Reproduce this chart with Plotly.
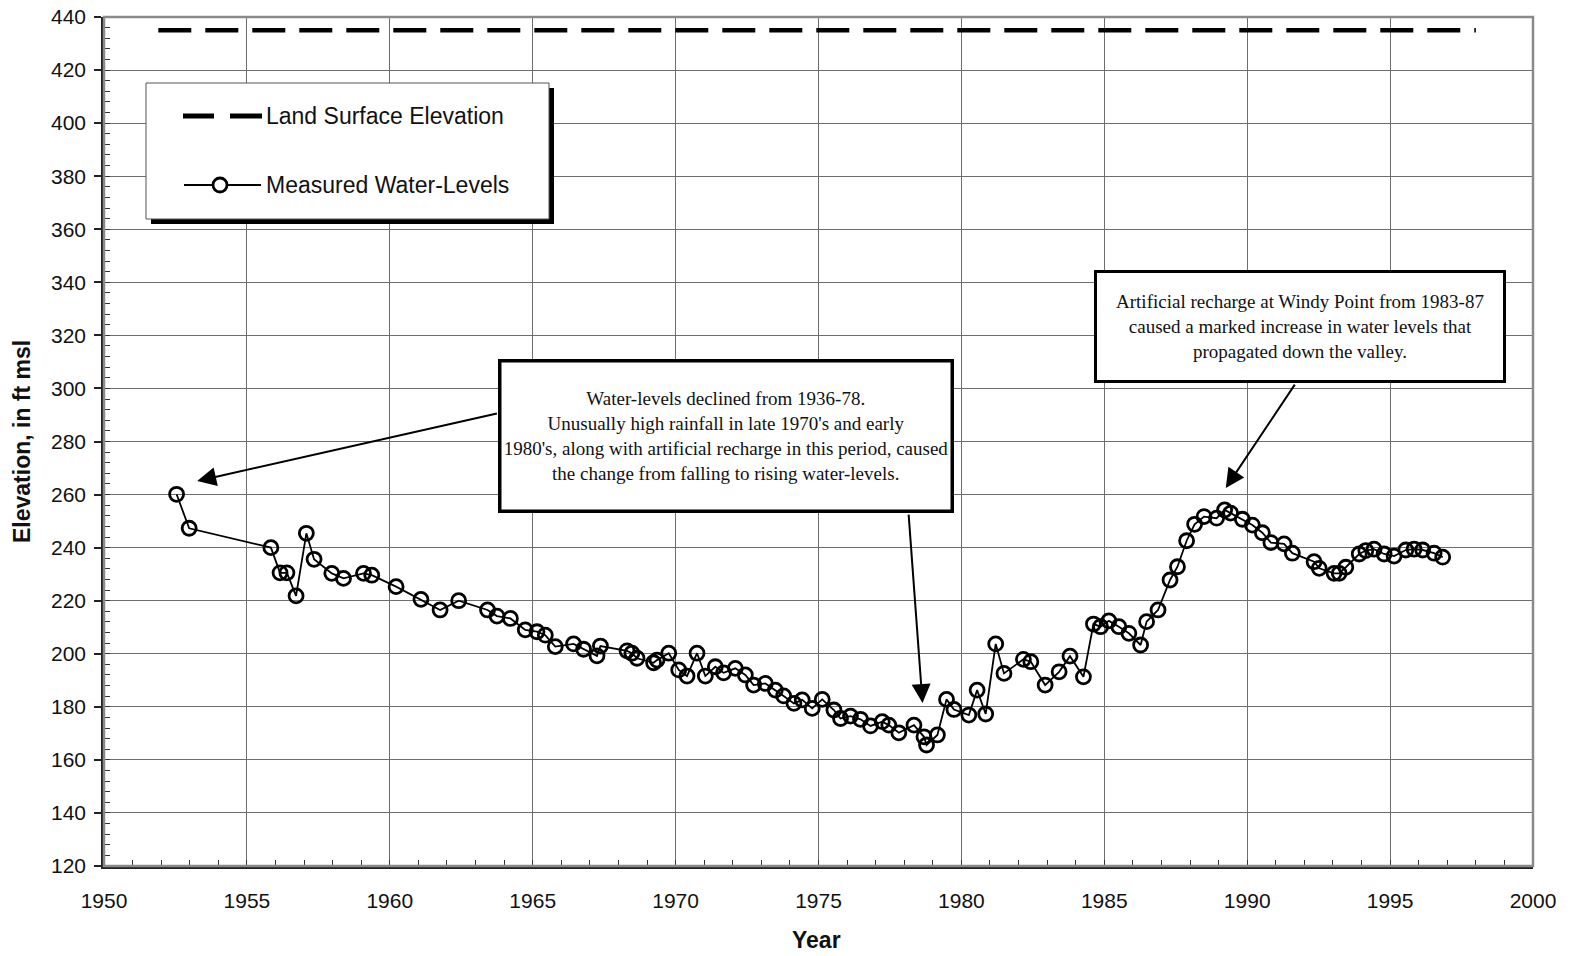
import plotly.graph_objects as go

# Measured water levels (decimal year, elevation in ft msl)
years = [
    1952.54, 1952.98, 1955.84, 1956.16, 1956.40, 1956.72, 1957.08, 1957.35, 1957.97, 1958.38,
    1959.08, 1959.37, 1960.22, 1961.09, 1961.76, 1962.41, 1963.42, 1963.75, 1964.22, 1964.74,
    1965.15, 1965.44, 1965.79, 1966.43, 1966.78, 1967.25, 1967.37, 1968.30, 1968.47, 1968.65,
    1969.23, 1969.35, 1969.76, 1970.11, 1970.40, 1970.75, 1971.04, 1971.39, 1971.68, 1972.09,
    1972.44, 1972.73, 1973.14, 1973.49, 1973.78, 1974.14, 1974.43, 1974.78, 1975.13, 1975.54,
    1975.77, 1976.12, 1976.47, 1976.82, 1977.23, 1977.46, 1977.81, 1978.34, 1978.69, 1978.78,
    1979.16, 1979.48, 1979.74, 1980.26, 1980.55, 1980.85, 1981.20, 1981.49, 1982.17, 1982.43,
    1982.93, 1983.42, 1983.80, 1984.27, 1984.62, 1984.87, 1985.16, 1985.51, 1985.86, 1986.27,
    1986.48, 1986.88, 1987.30, 1987.56, 1987.88, 1988.16, 1988.49, 1988.93, 1989.21, 1989.42,
    1989.83, 1990.18, 1990.53, 1990.83, 1991.29, 1991.58, 1992.34, 1992.52, 1993.04, 1993.22,
    1993.45, 1993.92, 1994.15, 1994.44, 1994.79, 1995.14, 1995.55, 1995.84, 1996.14, 1996.54,
    1996.84,
]
levels = [
    260.1, 247.3, 240.0, 230.5, 230.5, 221.8, 245.4, 235.6, 230.3, 228.4,
    230.3, 229.6, 225.3, 220.5, 216.5, 220.0, 216.5, 214.2, 213.3, 209.0,
    208.3, 207.0, 202.7, 203.7, 201.7, 199.2, 202.9, 201.1, 200.2, 198.3,
    196.6, 197.6, 200.2, 193.9, 191.6, 200.2, 191.6, 195.1, 192.8, 194.5,
    192.0, 188.2, 188.8, 186.3, 184.1, 181.3, 182.6, 179.4, 182.8, 178.8,
    175.6, 176.5, 175.3, 172.8, 174.4, 173.1, 170.2, 173.1, 168.7, 165.6,
    169.4, 182.8, 179.0, 176.9, 186.3, 177.3, 203.7, 192.6, 197.9, 197.0,
    188.2, 193.2, 199.1, 191.3, 211.2, 210.2, 212.4, 210.2, 207.7, 203.3,
    212.1, 216.5, 227.8, 232.8, 242.6, 248.8, 251.7, 251.1, 254.2, 253.0,
    250.7, 248.5, 245.6, 241.9, 241.4, 237.9, 234.7, 232.2, 230.3, 230.3,
    232.6, 237.6, 238.9, 239.4, 237.6, 236.8, 239.1, 239.4, 239.1, 237.9,
    236.4,
]

# Land surface elevation at the well
land_years = [1951.9, 1998.0]
land_elev = [435, 435]

x_ticks = list(range(1950, 2001, 5))
y_ticks = list(range(120, 441, 20))

W, H = 1571, 956
L, R, T, B = 104, 1533, 17, 866


def px(xp):
    return (xp - L) / (R - L)


def py(yp):
    return (B - yp) / (B - T)


SANS = "Liberation Sans, Arial, sans-serif"
SERIF = "Liberation Serif, Times New Roman, serif"

fig = go.Figure()

fig.add_trace(go.Scatter(
    x=land_years, y=land_elev, mode="lines",
    line=dict(color="black", width=4.5, dash="33px,14px"),
    name="Land Surface Elevation", showlegend=False, hoverinfo="skip",
))
fig.add_trace(go.Scatter(
    x=years, y=levels, mode="lines+markers",
    line=dict(color="black", width=1.8),
    marker=dict(symbol="circle-open", size=14, color="black", line=dict(width=2.8)),
    name="Measured Water-Levels", showlegend=False,
))

shapes = []
# Plot frame (top / right in gray)
shapes.append(dict(type="rect", xref="paper", yref="paper", x0=0, y0=0, x1=1, y1=1,
                   line=dict(color="#8a8a8a", width=2.5), layer="above"))

# Legend box with drop shadow
lx0, ly0, lx1, ly1 = 146, 83, 549, 219
shapes.append(dict(type="rect", xref="paper", yref="paper",
                   x0=px(lx0 + 5), x1=px(lx1 + 5), y0=py(ly1 + 5), y1=py(ly0 + 5),
                   fillcolor="black", line=dict(width=0), layer="above"))
shapes.append(dict(type="rect", xref="paper", yref="paper",
                   x0=px(lx0), x1=px(lx1), y0=py(ly1), y1=py(ly0),
                   fillcolor="white", line=dict(color="#555", width=1), layer="above"))
# legend sample: dashed line
for a, b in [(183, 214), (230, 262)]:
    shapes.append(dict(type="line", xref="paper", yref="paper",
                       x0=px(a), x1=px(b), y0=py(116), y1=py(116),
                       line=dict(color="black", width=5), layer="above"))
# legend sample: line with open circle
shapes.append(dict(type="line", xref="paper", yref="paper",
                   x0=px(184), x1=px(261), y0=py(185), y1=py(185),
                   line=dict(color="black", width=2.2), layer="above"))
shapes.append(dict(type="circle", xref="paper", yref="paper",
                   x0=px(213), x1=px(227), y0=py(192), y1=py(178),
                   fillcolor="white", line=dict(color="black", width=2.8), layer="above"))

annotations = []
annotations.append(dict(xref="paper", yref="paper", x=px(264), y=py(116), xanchor="left",
                        yanchor="middle", showarrow=False, text="Land Surface Elevation",
                        font=dict(family=SANS, size=23, color="#111")))
annotations.append(dict(xref="paper", yref="paper", x=px(264), y=py(185), xanchor="left",
                        yanchor="middle", showarrow=False, text="Measured Water-Levels",
                        font=dict(family=SANS, size=23, color="#111")))

# Callout arrows (tail at text box, head at the data)
arrow_style = dict(showarrow=True, arrowhead=2, arrowsize=1.9, arrowwidth=2,
                   arrowcolor="black", text="", axref="x", ayref="y", xref="x", yref="y")
annotations.append(dict(x=1953.26, y=265.1, ax=1963.8, ay=290.7, **arrow_style))
annotations.append(dict(x=1978.64, y=181.4, ax=1978.15, ay=253.0, **arrow_style))
annotations.append(dict(x=1989.25, y=262.5, ax=1991.7, ay=302.0, **arrow_style))

# Callout text boxes
annotations.append(dict(
    xref="paper", yref="paper", x=px((498 + 953) / 2), y=py((360 + 513) / 2),
    xanchor="center", yanchor="middle", showarrow=False,
    text=("Water-levels declined from 1936-78.<br>"
          "Unusually high rainfall in late 1970's and early<br>"
          "1980's, along with artificial recharge in this period, caused<br>"
          "the change from falling to rising water-levels."),
    font=dict(family=SERIF, size=19, color="#111"), align="center",
    width=449, height=147, bgcolor="white", bordercolor="black", borderwidth=3.5, borderpad=0,
))
annotations.append(dict(
    xref="paper", yref="paper", x=px((1094 + 1506) / 2), y=py((270 + 383) / 2),
    xanchor="center", yanchor="middle", showarrow=False,
    text=("Artificial recharge at Windy Point from 1983-87<br>"
          "caused a marked increase in water levels that<br>"
          "propagated down the valley."),
    font=dict(family=SERIF, size=19, color="#111"), align="center",
    width=406, height=107, bgcolor="white", bordercolor="black", borderwidth=3, borderpad=0,
))

# Axis titles
annotations.append(dict(xref="paper", yref="paper", x=px(22), y=py(442), showarrow=False,
                        text="<b>Elevation, in ft msl</b>", textangle=-90,
                        xanchor="center", yanchor="middle",
                        font=dict(family=SANS, size=23, color="#111")))
annotations.append(dict(xref="paper", yref="paper", x=px(816), y=py(940), showarrow=False,
                        text="<b>Year</b>", xanchor="center", yanchor="middle",
                        font=dict(family=SANS, size=23, color="#111")))

fig.update_layout(
    width=W, height=H,
    margin=dict(l=L, r=W - R, t=T, b=H - B, pad=0, autoexpand=False),
    paper_bgcolor="white", plot_bgcolor="white",
    shapes=shapes, annotations=annotations, showlegend=False,
    font=dict(family=SANS, size=20, color="#111"),
)
fig.update_xaxes(
    range=[1950, 2000], tickvals=x_ticks, ticktext=[str(v) for v in x_ticks],
    showgrid=True, gridcolor="#6e6e6e", gridwidth=1.3, automargin=False,
    showline=True, linecolor="#222", linewidth=2.5,
    ticks="", ticklabelstandoff=14, tickfont=dict(size=21, family=SANS, color="#111"),
    minor=dict(dtick=1, tick0=1950, ticks="inside", ticklen=6, tickcolor="#333",
               tickwidth=1.3, showgrid=False),
    zeroline=False,
)
fig.update_yaxes(
    range=[120, 440], tickvals=y_ticks, ticktext=[str(v) for v in y_ticks],
    showgrid=True, gridcolor="#6e6e6e", gridwidth=1.3, automargin=False,
    showline=True, linecolor="#222", linewidth=2.5,
    ticks="outside", ticklen=7, tickcolor="#222", tickwidth=1.5,
    ticklabelstandoff=4, tickfont=dict(size=21, family=SANS, color="#111"),
    minor=dict(dtick=4, tick0=120, ticks="inside", ticklen=6, tickcolor="#333",
               tickwidth=1.3, showgrid=False),
    zeroline=False,
)

fig.write_html("out.html")
